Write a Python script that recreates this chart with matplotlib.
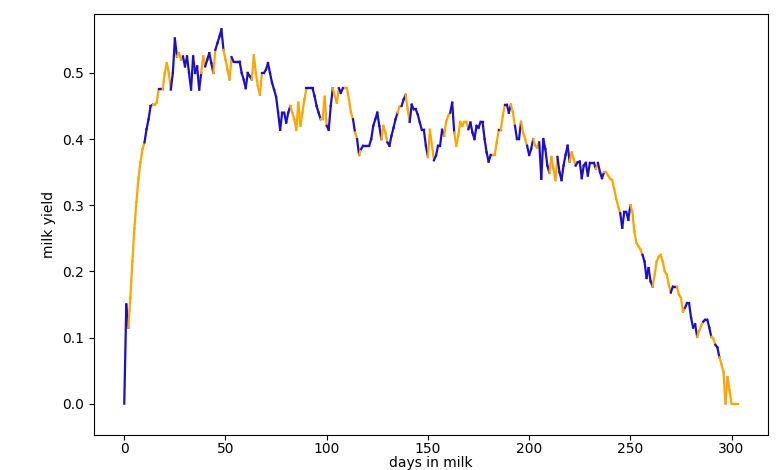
import numpy as np
import matplotlib
matplotlib.use("Agg")
import matplotlib.pyplot as plt

# daily milk yield over the lactation, with a 0/1 flag per day
days = np.arange(304)
milk_yield = [
    0.000, 0.150, 0.115, 0.160, 0.215, 0.265, 0.305, 0.340, 0.365, 0.385,
    0.395, 0.415, 0.430, 0.450, 0.452, 0.452, 0.455, 0.475, 0.475, 0.475,
    0.500, 0.515, 0.500, 0.475, 0.500, 0.552, 0.525, 0.530, 0.520, 0.525,
    0.510, 0.525, 0.500, 0.475, 0.525, 0.500, 0.510, 0.475, 0.500, 0.525,
    0.510, 0.520, 0.530, 0.515, 0.500, 0.535, 0.545, 0.555, 0.566, 0.535,
    0.520, 0.505, 0.490, 0.524, 0.517, 0.517, 0.517, 0.517, 0.500, 0.490,
    0.477, 0.500, 0.495, 0.490, 0.527, 0.500, 0.480, 0.467, 0.500, 0.500,
    0.505, 0.515, 0.500, 0.485, 0.475, 0.464, 0.440, 0.414, 0.440, 0.440,
    0.425, 0.440, 0.450, 0.440, 0.430, 0.414, 0.455, 0.420, 0.440, 0.460,
    0.477, 0.477, 0.477, 0.477, 0.465, 0.450, 0.440, 0.430, 0.430, 0.464,
    0.420, 0.414, 0.450, 0.477, 0.465, 0.455, 0.477, 0.470, 0.477, 0.477,
    0.477, 0.460, 0.440, 0.430, 0.410, 0.400, 0.376, 0.385, 0.390, 0.390,
    0.390, 0.390, 0.400, 0.420, 0.430, 0.440, 0.420, 0.400, 0.420, 0.410,
    0.395, 0.390, 0.405, 0.417, 0.430, 0.440, 0.449, 0.450, 0.460, 0.467,
    0.445, 0.426, 0.452, 0.445, 0.445, 0.437, 0.425, 0.414, 0.414, 0.390,
    0.373, 0.414, 0.390, 0.368, 0.375, 0.390, 0.390, 0.414, 0.405, 0.426,
    0.435, 0.440, 0.455, 0.410, 0.390, 0.405, 0.426, 0.420, 0.426, 0.426,
    0.415, 0.425, 0.410, 0.400, 0.420, 0.417, 0.426, 0.426, 0.400, 0.380,
    0.366, 0.376, 0.376, 0.376, 0.395, 0.414, 0.414, 0.435, 0.452, 0.452,
    0.440, 0.452, 0.440, 0.420, 0.400, 0.400, 0.426, 0.410, 0.400, 0.390,
    0.376, 0.385, 0.400, 0.390, 0.387, 0.395, 0.340, 0.400, 0.385, 0.360,
    0.349, 0.373, 0.355, 0.338, 0.373, 0.350, 0.338, 0.360, 0.376, 0.390,
    0.366, 0.380, 0.370, 0.360, 0.365, 0.366, 0.341, 0.360, 0.364, 0.345,
    0.364, 0.364, 0.364, 0.355, 0.364, 0.350, 0.341, 0.350, 0.350, 0.345,
    0.340, 0.338, 0.325, 0.310, 0.298, 0.288, 0.266, 0.290, 0.290, 0.278,
    0.300, 0.290, 0.260, 0.243, 0.238, 0.233, 0.225, 0.215, 0.190, 0.205,
    0.185, 0.177, 0.195, 0.215, 0.222, 0.225, 0.215, 0.200, 0.195, 0.180,
    0.168, 0.177, 0.177, 0.177, 0.165, 0.160, 0.139, 0.145, 0.152, 0.152,
    0.130, 0.115, 0.120, 0.101, 0.110, 0.118, 0.124, 0.127, 0.127, 0.115,
    0.101, 0.098, 0.089, 0.085, 0.070, 0.060, 0.048, 0.000, 0.040, 0.020,
    0.000, 0.000, 0.000, 0.000,
]
flag = [
    1, 1, 0, 0, 0, 0, 0, 0, 0, 0,
    1, 1, 1, 1, 0, 0, 0, 1, 1, 0,
    0, 0, 0, 1, 1, 1, 0, 0, 0, 1,
    1, 1, 1, 1, 1, 1, 1, 1, 0, 0,
    1, 1, 1, 1, 0, 1, 1, 1, 1, 0,
    0, 0, 0, 1, 1, 1, 1, 1, 1, 1,
    1, 1, 1, 0, 0, 0, 0, 0, 1, 1,
    1, 1, 1, 1, 1, 1, 1, 1, 1, 1,
    1, 1, 0, 0, 0, 0, 0, 0, 0, 0,
    1, 1, 1, 1, 1, 1, 1, 0, 0, 0,
    1, 1, 1, 0, 0, 0, 1, 1, 1, 0,
    0, 0, 0, 1, 0, 1, 0, 1, 1, 1,
    1, 1, 1, 1, 1, 1, 1, 0, 0, 0,
    1, 1, 1, 1, 1, 0, 0, 1, 1, 0,
    0, 1, 1, 1, 1, 1, 1, 1, 1, 1,
    0, 0, 0, 1, 1, 1, 1, 1, 0, 0,
    0, 1, 1, 0, 0, 0, 0, 0, 0, 0,
    1, 1, 1, 1, 1, 1, 1, 1, 1, 1,
    1, 1, 0, 0, 0, 1, 0, 0, 1, 1,
    1, 0, 0, 1, 1, 1, 0, 0, 0, 1,
    1, 1, 0, 0, 0, 1, 1, 1, 1, 1,
    0, 0, 0, 0, 1, 1, 1, 1, 1, 1,
    0, 0, 0, 1, 1, 1, 1, 1, 1, 1,
    1, 1, 1, 0, 1, 1, 1, 0, 0, 0,
    0, 0, 0, 0, 0, 1, 1, 1, 1, 1,
    0, 0, 0, 0, 0, 0, 1, 1, 1, 1,
    1, 0, 0, 0, 0, 0, 0, 0, 0, 0,
    1, 1, 1, 0, 0, 0, 0, 1, 1, 1,
    1, 1, 1, 0, 0, 0, 1, 1, 1, 1,
    0, 0, 1, 1, 0, 0, 0, 0, 0, 0,
    0, 0, 0, 0,
]

colors = {0: "orange", 1: "#1c0fc4"}

fig = plt.figure(figsize=(7.8, 4.7), dpi=100)
ax = fig.add_axes([0.12, 0.075, 0.865, 0.895])

# one short segment per day, coloured by that day's flag
for i in range(len(days) - 1):
    ax.plot(days[i:i + 2], milk_yield[i:i + 2], color=colors[flag[i]], linewidth=1.6)

ax.set_ylim(-0.047, 0.589)
ax.set_xlabel("days in milk", fontsize=10, va="center")
ax.xaxis.set_label_coords(0.5, -0.068)
ax.set_ylabel("milk yield", fontsize=10)
ax.tick_params(labelsize=10)
ax.tick_params(axis="x", pad=2)

fig.savefig("out.png")
